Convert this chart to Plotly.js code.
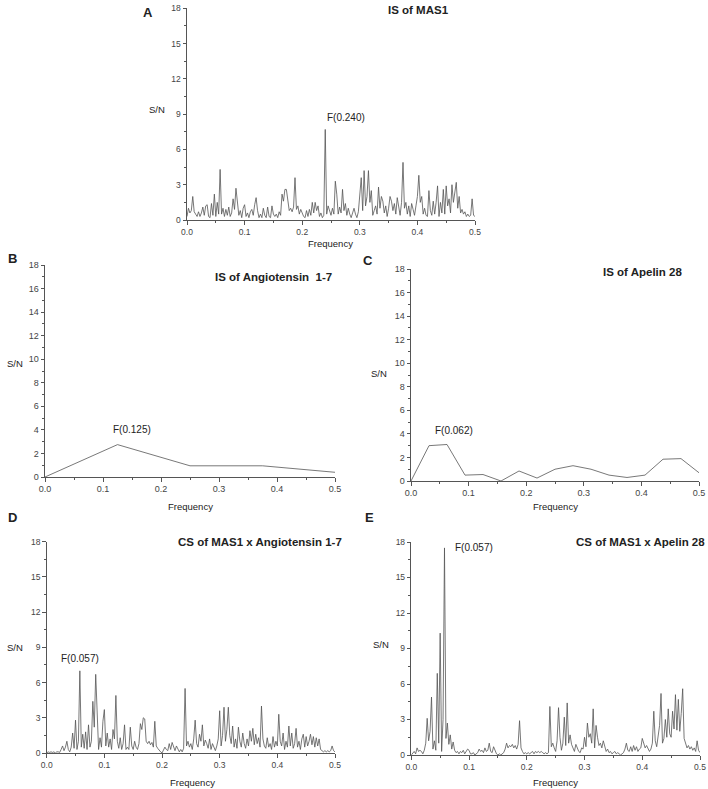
<!DOCTYPE html>
<html>
<head>
<meta charset="utf-8">
<script src="https://cdn.plot.ly/plotly-3.0.1.min.js"></script>
<style>html,body{margin:0;padding:0;background:#fff}#chart{width:708px;height:789px}</style>
</head>
<body>
<div id="chart"></div>
<script>
// ---------- DATA ----------
// Dense spectra sampled every 0.0025 cycles (x0 = 0, step = 0.0025)
const freqStep = 0.0025;

const isMAS1 = [0.3,1.0,0.6,0.8,2.0,0.7,0.5,0.3,0.7,0.3,0.6,1.1,0.4,1.2,1.3,0.3,0.2,1.4,0.4,2.2,
0.3,1.5,0.5,4.3,0.5,1.0,0.3,0.9,0.4,1.1,0.3,0.6,1.8,0.9,2.7,1.6,0.4,0.8,0.2,1.0,
1.3,0.3,0.6,0.2,0.7,0.9,0.4,1.3,1.9,0.8,0.2,0.5,0.2,1.0,0.4,0.2,1.1,0.3,0.2,1.2,
0.5,0.3,0.5,0.2,0.7,0.4,2.2,1.6,2.6,2.6,1.8,0.8,1.0,0.7,1.1,3.6,0.9,1.2,0.5,0.9,
0.6,0.3,0.2,0.8,0.3,0.9,0.4,1.5,0.6,1.5,0.8,1.2,0.3,0.6,0.2,0.4,7.7,0.5,1.2,0.8,
0.4,1.0,0.5,3.3,2.2,0.5,1.1,0.6,2.6,0.8,1.4,0.4,1.0,0.5,0.2,0.6,1.0,0.5,0.2,0.7,
2.0,3.6,0.8,4.2,1.2,2.0,4.2,1.5,2.5,0.4,0.8,1.2,0.5,2.8,1.0,2.0,1.6,0.6,1.2,0.3,
1.0,2.0,1.6,0.8,1.4,0.5,1.9,1.0,0.4,1.5,4.9,1.0,1.5,0.5,1.2,0.3,1.4,0.9,0.4,1.2,
2.0,3.8,1.5,2.0,0.5,1.0,0.4,0.3,2.5,0.8,0.4,1.6,0.5,1.5,2.9,0.3,1.5,0.6,2.6,0.5,
2.9,1.2,1.8,0.6,3.0,1.5,2.4,3.2,1.0,2.0,0.6,0.9,0.5,0.7,0.3,0.5,0.3,0.4,1.8,0.4,0.3];

const csMAS1Ang = [0.0,0.1,0.05,0.1,0.05,0.1,0.0,0.1,0.1,0.05,0.3,0.6,0.2,0.5,1.0,0.3,0.1,0.5,1.7,0.4,
2.8,0.3,1.0,7.0,0.5,1.6,0.4,1.8,0.3,2.4,0.5,1.0,4.4,2.2,6.7,2.5,0.3,1.3,0.5,2.7,
3.7,0.6,1.7,0.5,1.2,0.3,2.0,1.2,4.9,1.0,0.4,1.3,0.3,0.8,2.4,0.3,0.5,0.3,2.2,0.6,
0.3,1.0,0.5,0.3,0.8,2.5,2.0,3.0,2.9,1.0,0.8,1.0,0.7,0.9,0.5,2.7,0.6,0.4,0.2,0.1,
0.0,0.2,0.5,0.3,0.2,0.8,0.3,0.9,0.5,0.2,0.6,0.4,0.1,0.3,0.1,0.4,5.5,0.6,1.0,0.5,
0.8,0.3,1.2,2.8,0.8,0.5,1.6,1.0,2.4,0.6,1.1,0.8,0.4,1.2,0.3,0.8,0.5,0.2,0.6,1.2,
3.6,0.6,1.5,3.9,1.0,2.0,3.9,1.5,0.8,2.3,0.5,1.2,0.4,2.2,1.0,0.5,1.7,0.8,0.4,1.2,
0.6,1.9,1.0,2.1,0.7,1.6,0.8,1.3,0.5,4.0,1.2,0.6,0.4,1.3,0.5,0.8,0.3,1.4,0.5,1.0,
0.6,3.3,1.0,0.6,1.7,0.3,1.0,0.5,2.3,0.6,1.7,0.4,0.8,2.1,0.5,1.0,0.3,1.2,1.6,0.5,
1.4,0.6,1.0,1.6,0.7,1.4,0.5,1.3,0.6,1.2,0.3,0.2,0.1,0.2,0.1,0.2,0.1,0.2,0.6,0.2,0.1];

const csMAS1Apl = [0.0,0.2,0.3,0.1,0.6,0.3,0.4,0.3,0.1,0.4,1.0,3.1,1.2,2.0,4.9,0.5,1.2,0.4,6.9,1.0,
10.3,0.3,3.0,17.5,1.4,2.7,0.9,1.7,0.5,1.1,0.4,0.2,0.3,0.1,0.3,0.2,0.4,0.1,0.3,0.5,
0.4,0.1,0.1,0.2,0.0,0.1,0.2,0.5,0.3,0.4,0.2,0.6,0.3,0.4,1.0,0.3,0.2,0.7,0.4,0.1,
0.0,0.1,0.0,0.1,0.2,0.5,1.0,0.6,0.8,0.7,0.9,0.6,0.8,0.5,0.9,2.9,0.6,0.3,0.1,0.2,
0.1,0.2,0.1,0.2,0.3,0.1,0.3,0.2,0.3,0.2,0.3,0.2,0.1,0.2,0.1,0.2,4.1,0.7,1.0,0.6,
0.3,1.2,4.0,1.5,0.4,1.0,3.2,0.8,4.4,1.0,1.7,0.9,0.5,0.3,0.9,0.6,0.3,0.2,0.6,0.5,
1.5,0.7,2.7,1.5,1.8,1.0,3.9,0.6,2.5,1.5,0.8,1.0,0.6,1.2,0.8,0.3,0.5,0.2,0.3,0.1,
0.2,0.3,0.1,0.2,0.1,0.0,0.1,0.2,0.5,1.0,0.4,0.3,0.7,0.3,0.8,0.4,0.7,0.3,0.5,0.6,
1.4,0.9,0.6,0.8,0.5,0.3,0.5,1.0,3.7,1.2,0.7,1.5,2.5,5.2,1.0,1.4,3.0,1.5,3.9,1.8,
1.5,3.7,2.2,5.1,2.1,4.7,2.0,3.5,5.6,1.4,1.0,0.6,0.8,0.5,0.7,0.4,0.6,0.3,1.2,0.4,0.2];

// Sparse spectra
const angFreq = [0.0, 0.125, 0.25, 0.375, 0.5];
const isAng   = [0.0, 2.75, 0.95, 0.95, 0.4];

const aplFreq = [0.0,0.03125,0.0625,0.09375,0.125,0.15625,0.1875,0.21875,0.25,0.28125,0.3125,0.34375,0.375,0.40625,0.4375,0.46875,0.5];
const isApl   = [0.0,3.0,3.1,0.5,0.55,0.0,0.85,0.25,1.0,1.3,1.0,0.5,0.3,0.5,1.85,1.9,0.7];

const panelTitles = ['IS of MAS1', 'IS of Angiotensin  1-7', 'IS of Apelin 28', 'CS of MAS1 x Angiotensin 1-7', 'CS of MAS1 x Apelin 28'];
const panelLetters = ['A', 'B', 'C', 'D', 'E'];
const peakLabels = ['F(0.240)', 'F(0.125)', 'F(0.062)', 'F(0.057)', 'F(0.057)'];
const xTickVals = [0, 0.1, 0.2, 0.3, 0.4, 0.5];

// ---------- LAYOUT ----------
const W = 708, H = 789;
const FONT = 'Liberation Sans, Arial, Helvetica, sans-serif';
const px = v => v / W;
const py = v => 1 - v / H;

const lineStyle = {color: '#555555', width: 0.8};

const traces = [
  {x0: 0, dx: freqStep, y: isMAS1, xaxis: 'x', yaxis: 'y'},
  {x: angFreq, y: isAng, xaxis: 'x2', yaxis: 'y2'},
  {x: aplFreq, y: isApl, xaxis: 'x3', yaxis: 'y3'},
  {x0: 0, dx: freqStep, y: csMAS1Ang, xaxis: 'x4', yaxis: 'y4'},
  {x0: 0, dx: freqStep, y: csMAS1Apl, xaxis: 'x5', yaxis: 'y5'}
].map(t => Object.assign(t, {type: 'scatter', mode: 'lines', line: lineStyle, hoverinfo: 'skip', showlegend: false, cliponaxis: false}));

// pixel boxes: [left, right, bottom(y of 0), top(y of 18)], y tick step, minor, font size
const boxes = [
  [187, 475, 220, 8.3, 3, 1.5, 8.5],
  [45, 335, 477, 265, 2, 1, 9],
  [411, 699, 481, 269, 2, 1, 9],
  [46.7, 335, 753, 541.7, 3, 1.5, 8.5],
  [411.3, 700, 755, 542, 3, 1.5, 8.5]
];

const layout = {
  width: W, height: H,
  margin: {l: 0, r: 0, t: 0, b: 0},
  paper_bgcolor: '#ffffff', plot_bgcolor: 'rgba(0,0,0,0)',
  showlegend: false,
  font: {family: FONT, color: '#333333'},
  annotations: []
};

boxes.forEach((b, i) => {
  const n = i === 0 ? '' : String(i + 1);
  const axCommon = {
    showline: true, linecolor: '#555555', linewidth: 1,
    showgrid: false, zeroline: false, ticks: 'outside', ticklen: 3.5, tickwidth: 1, tickcolor: '#555555',
    tickfont: {family: FONT, size: b[6], color: '#444444'}, fixedrange: true
  };
  layout['xaxis' + n] = Object.assign({}, axCommon, {
    domain: [px(b[0]), px(b[1])], range: [0, 0.5], anchor: 'y' + n,
    tickvals: xTickVals, tickformat: '.1f',
    minor: {dtick: 0.05, ticklen: 2, ticks: 'outside', tickcolor: '#555555'}
  });
  layout['yaxis' + n] = Object.assign({}, axCommon, {
    domain: [py(b[2]), py(b[3])], range: [0, 18], anchor: 'x' + n,
    tick0: 0, dtick: b[4],
    minor: {dtick: b[5], ticklen: 2, ticks: 'outside', tickcolor: '#555555'}
  });
});

function addText(text, x, y, size, bold, opts) {
  layout.annotations.push(Object.assign({
    text: bold ? '<b>' + text + '</b>' : text,
    x: px(x), y: py(y), xref: 'paper', yref: 'paper',
    xanchor: 'center', yanchor: 'middle', showarrow: false,
    font: {family: FONT, size: size, color: '#222222'}
  }, opts || {}));
}

// panel titles
const titlePos = [[418, 10], [273, 277], [642, 272], [260, 542], [640, 542]];
titlePos.forEach((p, i) => addText(panelTitles[i], p[0], p[1], 11.5, true));
// panel letters
const letterPos = [[148, 12], [12, 258], [368, 260], [12, 517], [369, 517]];
letterPos.forEach((p, i) => addText(panelLetters[i], p[0], p[1], 13, true));
// S/N labels
const snPos = [[157, 110], [15, 363], [379, 373], [15, 647], [381, 644]];
snPos.forEach(p => addText('S/N', p[0], p[1], 9.5, false));
// Frequency labels
const fqPos = [[330, 243], [190, 506], [555, 506], [192, 782], [555, 782]];
fqPos.forEach(p => addText('Frequency', p[0], p[1], 9.5, false));
// peak labels
const pkPos = [[346, 118], [132, 429], [454, 430], [80, 658], [474, 547]];
pkPos.forEach((p, i) => addText(peakLabels[i], p[0], p[1], 10, false));

Plotly.newPlot('chart', traces, layout, {staticPlot: true, displayModeBar: false});
</script>
</body>
</html>
